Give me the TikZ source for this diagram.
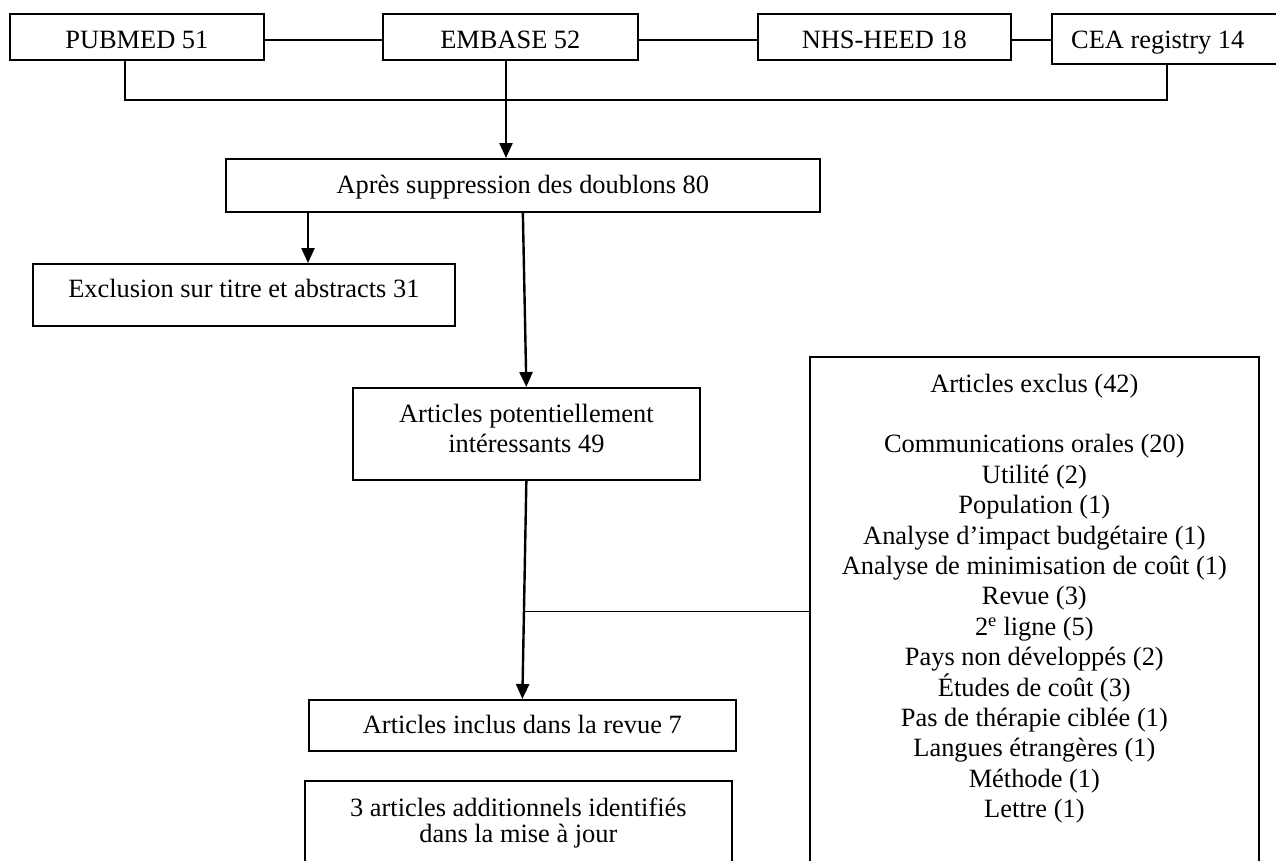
\documentclass[tikz,border=0pt]{standalone}
\usepackage{fontspec}
\setmainfont{Liberation Serif}
\usetikzlibrary{arrows.meta,calc}
\newcommand\fz{\fontsize{26.4pt}{30.4pt}\selectfont}
\tikzset{
  box/.style={draw, line width=1.7pt, inner sep=0pt, anchor=north west},
  lbl/.style={inner sep=0pt, font=\fz, align=center},
  con/.style={line width=1.6pt},
  arr/.style={line width=2.4pt, -{Triangle[length=15pt,width=13pt]}}
}
\begin{document}
\begin{tikzpicture}[x=1pt,y=-1pt]
\useasboundingbox (0,0) rectangle (1276,860);
\clip (0,0) rectangle (1276,860);
% top row
\node[box, minimum width=254pt, minimum height=46pt] (pubmed) at (9,13) {};
\node[box, minimum width=255pt, minimum height=46pt] (embase) at (382,13) {};
\node[box, minimum width=253pt, minimum height=46pt] (nhs) at (757,13) {};
\node[box, minimum width=260pt, minimum height=50pt] (cea) at (1051,13) {};
\node[lbl, anchor=base] (pubmedT) at ([yshift=-35pt]pubmed.north) {PUBMED 51};
\node[lbl, anchor=base] (embaseT) at ([yshift=-35pt]embase.north) {EMBASE 52};
\node[lbl, anchor=base] (nhsT) at ([yshift=-35pt]nhs.north) {NHS-HEED 18};
\node[lbl, anchor=base west] (ceaT) at ([xshift=20pt,yshift=-35pt]cea.north west) {CEA registry 14};
% second level
\node[box, minimum width=594pt, minimum height=53pt] (apres) at (225,158) {};
\node[lbl, anchor=base] (apresT) at ([yshift=-35pt]apres.north) {Après suppression des doublons 80};
\node[box, minimum width=422pt, minimum height=62pt] (excl) at (32,263) {};
\node[lbl, anchor=base] (exclT) at ([yshift=-34pt]excl.north) {Exclusion sur titre et abstracts 31};
\node[box, minimum width=347pt, minimum height=92pt] (pot) at (352,387) {};
\node[lbl, anchor=north] (potT) at ([yshift=-13.7pt]pot.north) {\strut Articles potentiellement\\ intéressants 49};
\node[box, minimum width=449pt, minimum height=540pt] (exlist) at (809,356) {};
\node[lbl, anchor=north] (exlistT) at ([yshift=-14.7pt]exlist.north) {\strut Articles exclus (42)\\[30.4pt]
Communications orales (20)\\
Utilité (2)\\
Population (1)\\
Analyse d’impact budgétaire (1)\\
Analyse de minimisation de coût (1)\\
Revue (3)\\
2\textsuperscript{e} ligne (5)\\
Pays non développés (2)\\
Études de coût (3)\\
Pas de thérapie ciblée (1)\\
Langues étrangères (1)\\
Méthode (1)\\
Lettre (1)};
\node[box, minimum width=427pt, minimum height=51pt] (incl) at (308,699) {};
\node[lbl, anchor=base] (inclT) at ([yshift=-34pt]incl.north) {Articles inclus dans la revue 7};
\node[box, minimum width=427pt, minimum height=120pt] (add) at (304,780) {};
\node[lbl, anchor=base] (addT1) at ([yshift=-36pt]add.north) {3 articles additionnels identifiés};
\node[lbl, anchor=base] (addT2) at ([yshift=-62.5pt]add.north) {dans la mise à jour};
% connectors top row
\draw[con] ([yshift=-3pt]pubmed.east) -- ([yshift=-3pt]embase.west);
\draw[con] ([yshift=-3pt]embase.east) -- ([yshift=-3pt]nhs.west);
\draw[con] ([yshift=-3pt]nhs.east) -- ([yshift=-3pt]nhs.east -| cea.west);
\coordinate (busL) at (125,100);
\coordinate (busR) at (1167,100);
\draw[con] (pubmed.south -| busL) -- (busL) -- (busR) -- (cea.south -| busR);
\coordinate (ax) at (506,0);
\draw[arr] (embase.south -| ax) -- (apres.north -| ax);
% lower arrows
\coordinate (bx) at (308,0);
\draw[arr] (apres.south -| bx) -- (excl.north -| bx);
\draw[arr] (apres.south) -- (pot.north);
\draw[arr] (pot.south) -- (incl.north);
\coordinate (br) at ($(pot.south)!0.6!(incl.north)$);
\draw[con] (br) -- (br -| exlist.west);
\end{tikzpicture}
\end{document}
